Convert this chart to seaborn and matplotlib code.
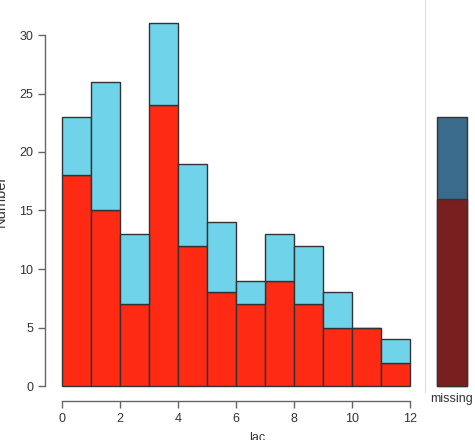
import numpy as np
import pandas as pd
import matplotlib
matplotlib.use("Agg")
import matplotlib.pyplot as plt
import seaborn as sns

# data
bin_edges = list(range(0, 13))
red_counts = [18, 15, 7, 24, 12, 8, 7, 9, 7, 5, 5, 2]
total_counts = [23, 26, 13, 31, 19, 14, 9, 13, 12, 8, 5, 4]
blue_counts = [t - r for t, r in zip(total_counts, red_counts)]
missing_label = ["missing"]
missing_red = [16]
missing_total = [23]
x_ticks = [0, 2, 4, 6, 8, 10, 12]
y_ticks = [0, 5, 10, 15, 20, 25, 30]

sns.set_style("white")
plt.rcParams["font.family"] = ["Liberation Sans", "DejaVu Sans"]
TXT = "#333333"
AX = "#666666"

centers = [e + 0.5 for e in bin_edges[:-1]]
df = pd.DataFrame({
    "lac": centers + centers,
    "count": red_counts + blue_counts,
    "grp": ["red"] * len(centers) + ["blue"] * len(centers),
})

fig = plt.figure(figsize=(4.75, 4.4), dpi=100)
W, H = 475, 440
ax = fig.add_axes([45 / W, (H - 401) / H, 370 / W, 401 / H])
sns.histplot(data=df, x="lac", weights="count", hue="grp", bins=bin_edges,
             multiple="stack", hue_order=["blue", "red"],
             palette={"red": "#ff2a14", "blue": "#6fd3ea"},
             edgecolor="#333333", linewidth=1.0, alpha=1, legend=False, ax=ax)
ax.set_xlim(-17 / 29, 12 + 5 / 29)
ax.set_ylim(-15 / 11.7, 401 / 11.7 - 15 / 11.7)
for s in ["top", "right"]:
    ax.spines[s].set_visible(False)
ax.spines["left"].set_bounds(0, 30)
ax.spines["bottom"].set_bounds(0, 12)
for s in ["left", "bottom"]:
    ax.spines[s].set_color(AX)
    ax.spines[s].set_linewidth(1.0)
ax.set_xticks(x_ticks)
ax.set_yticks(y_ticks)
ax.tick_params(axis="both", direction="out", length=5, width=1, color=AX,
               labelsize=9, labelcolor=TXT, left=True, bottom=True)
ax.set_xlabel("lac", fontsize=9, color=TXT)
ax.xaxis.set_label_coords(212 / 370, -31 / 401)
ax.set_ylabel("Number", fontsize=10.5, color=TXT)
ax.yaxis.set_label_coords(-37 / 370, 0.5)

# missing panel
ax2 = fig.add_axes([425 / W, (H - 401) / H, 50 / W, 401 / H])
mdf_t = pd.DataFrame({"k": missing_label, "v": missing_total})
mdf_r = pd.DataFrame({"k": missing_label, "v": missing_red})
sns.barplot(data=mdf_t, x="k", y="v", color="#3b6b8c", saturation=1,
            edgecolor="#333333", linewidth=1.0, width=0.8, ax=ax2)
sns.barplot(data=mdf_r, x="k", y="v", color="#7a1f1f", saturation=1,
            edgecolor="#333333", linewidth=1.0, width=0.8, ax=ax2)
ax2.set_xlim(-27 / 37.5, 23 / 37.5)
ax2.set_ylim(ax.get_ylim())
for s in ["top", "right", "bottom"]:
    ax2.spines[s].set_visible(False)
ax2.spines["left"].set_color("#dddddd")
ax2.spines["left"].set_bounds(-0.5, 34)
ax2.set_yticks([])
ax2.tick_params(axis="x", length=0, labelsize=9, labelcolor=TXT, pad=-6)
ax2.set_xlabel("")
ax2.set_ylabel("")

fig.savefig("out.png", dpi=100)
